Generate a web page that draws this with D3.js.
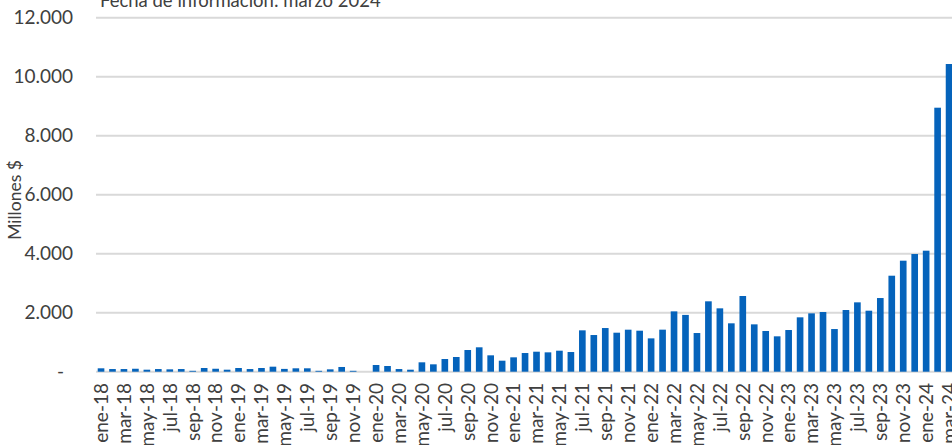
<!DOCTYPE html>
<html>
<head>
<meta charset="utf-8">
<script src="https://cdn.jsdelivr.net/npm/d3@7"></script>
<style>
  html, body { margin: 0; padding: 0; background: #ffffff; }
  svg { display: block; font-family: Lato, "Open Sans", sans-serif; }
</style>
</head>
<body>
<svg id="chart" width="952" height="445"></svg>
<script>
// ---- Data ----
const categories = [
  "ene-18","feb-18","mar-18","abr-18","may-18","jun-18","jul-18","ago-18","sep-18","oct-18","nov-18","dic-18",
  "ene-19","feb-19","mar-19","abr-19","may-19","jun-19","jul-19","ago-19","sep-19","oct-19","nov-19","dic-19",
  "ene-20","feb-20","mar-20","abr-20","may-20","jun-20","jul-20","ago-20","sep-20","oct-20","nov-20","dic-20",
  "ene-21","feb-21","mar-21","abr-21","may-21","jun-21","jul-21","ago-21","sep-21","oct-21","nov-21","dic-21",
  "ene-22","feb-22","mar-22","abr-22","may-22","jun-22","jul-22","ago-22","sep-22","oct-22","nov-22","dic-22",
  "ene-23","feb-23","mar-23","abr-23","may-23","jun-23","jul-23","ago-23","sep-23","oct-23","nov-23","dic-23",
  "ene-24","feb-24","mar-24"
];
const values = [
  115, 90, 90, 100, 68, 90, 80, 90, 30, 125, 100, 68,
  125, 90, 125, 170, 95, 115, 115, 30, 80, 160, 30, 0,
  227, 193, 90, 68, 318, 250, 430, 498, 735, 827, 555, 373,
  487, 633, 678, 656, 712, 667, 1402, 1243, 1480, 1322, 1424, 1390,
  1130, 1425, 2045, 1925, 1311, 2386, 2148, 1640, 2566, 1605, 1380, 1199,
  1413, 1843, 1978, 2023, 1446, 2091, 2351, 2068, 2497, 3254, 3763, 3989,
  4102, 8949, 10430
];
const yTicks = [0, 2000, 4000, 6000, 8000, 10000, 12000];
const titleText = "Fecha de información: marzo 2024";
const yAxisTitle = "Millones $";

// ---- Layout ----
const svg = d3.select("#chart");
const x = d3.scaleBand().domain(categories).range([95.3, 954.8]).paddingInner(0.42).paddingOuter(0.21);
const y = d3.scaleLinear().domain([0, 12000]).range([371.7, 17.7]);
const textColor = "#404040";
const fmt = d => d === 0 ? "-" : d3.format(",")(d).replace(/,/g, ".");

// gridlines
svg.append("g").selectAll("line").data(yTicks).join("line")
  .attr("x1", 96).attr("x2", 952)
  .attr("y1", d => y(d)).attr("y2", d => y(d))
  .attr("stroke", "#d9d9d9").attr("stroke-width", 2);

// y labels
svg.append("g").selectAll("text").data(yTicks).join("text")
  .attr("x", d => d === 0 ? 64 : 73)
  .attr("y", d => y(d))
  .attr("dy", "0.35em")
  .attr("text-anchor", "end")
  .attr("font-size", 19)
  .attr("fill", textColor)
  .text(fmt);

// bars
svg.append("g").selectAll("rect").data(values).join("rect")
  .attr("x", (d, i) => x(categories[i]))
  .attr("width", x.bandwidth())
  .attr("y", d => y(d))
  .attr("height", d => y(0) - y(d))
  .attr("fill", "#0563bb");

// x labels every 2 months
const labelCats = categories.filter((c, i) => i % 2 === 0);
svg.append("g").selectAll("text").data(labelCats).join("text")
  .attr("transform", d => `translate(${x(d) + x.bandwidth() / 2},383) rotate(-90)`)
  .attr("dy", "0.36em")
  .attr("text-anchor", "end")
  .attr("font-size", 19)
  .attr("fill", textColor)
  .text(d => d);

// y axis title
svg.append("text")
  .attr("transform", "translate(15,200) rotate(-90)")
  .attr("dy", "0.36em")
  .attr("text-anchor", "middle")
  .attr("font-size", 17.5)
  .attr("fill", textColor)
  .text(yAxisTitle);

// title (cut at top)
svg.append("text")
  .attr("x", 100).attr("y", 7)
  .attr("font-size", 18.5)
  .attr("fill", textColor)
  .text(titleText);
</script>
</body>
</html>
